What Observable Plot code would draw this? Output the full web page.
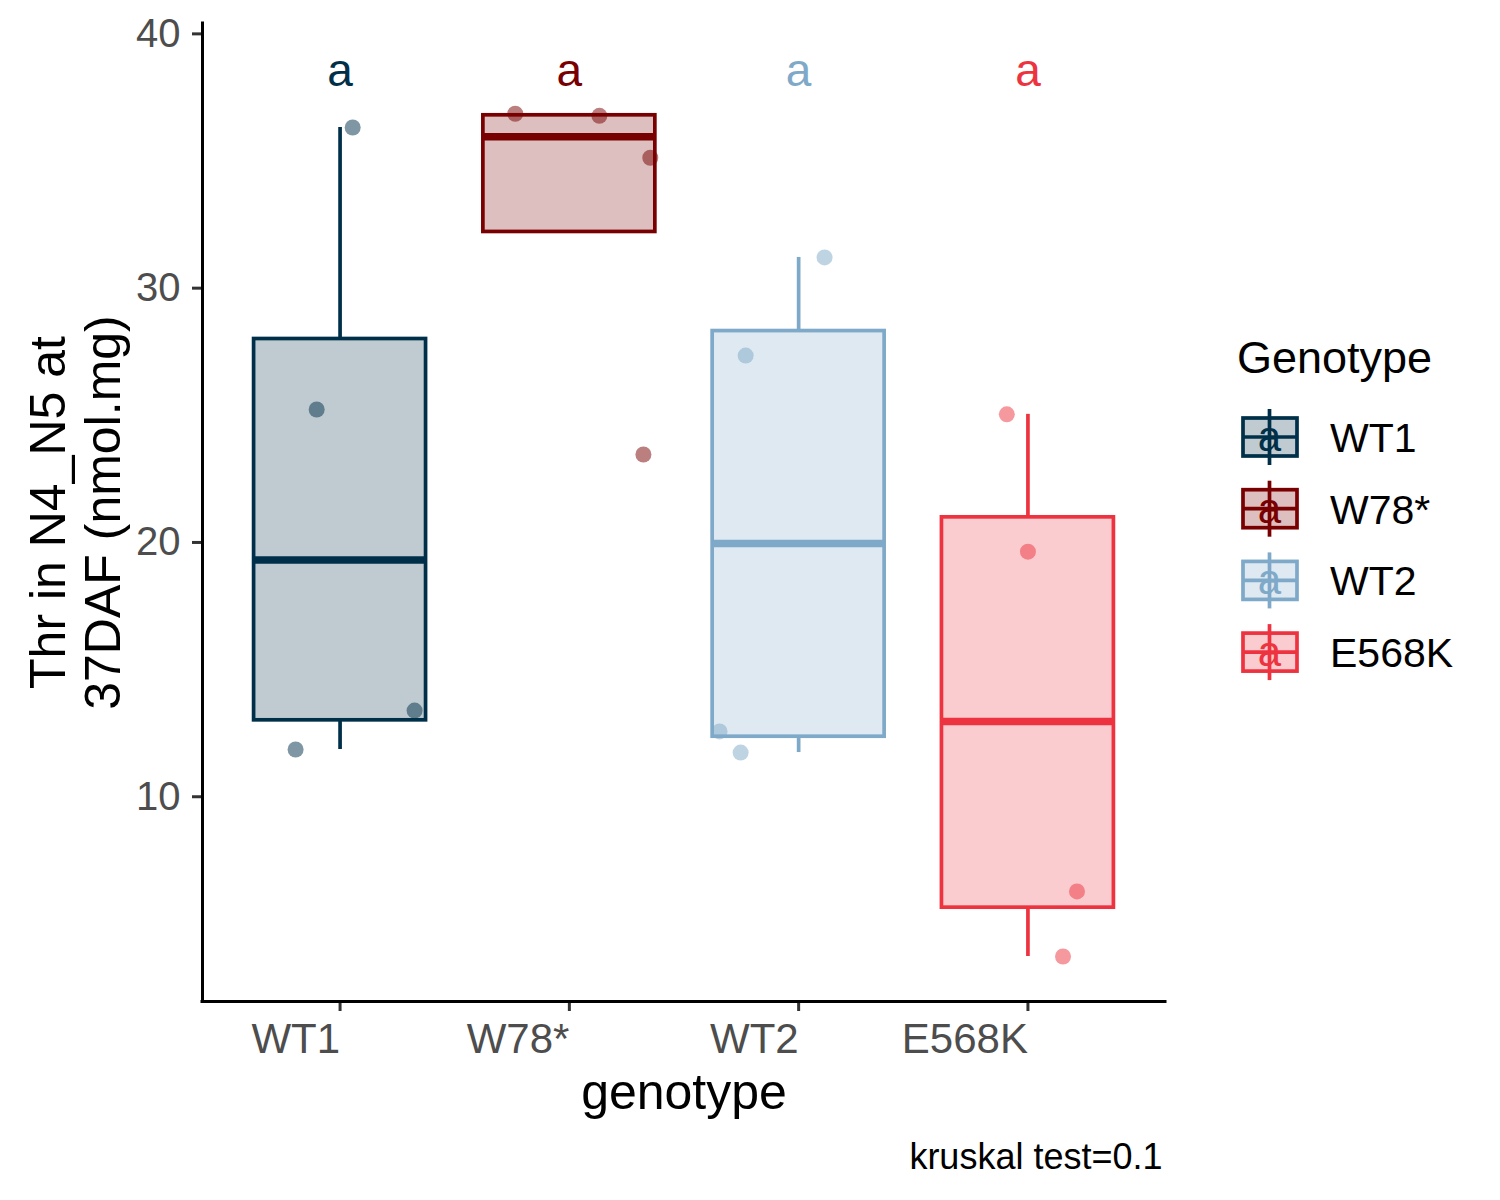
<!DOCTYPE html>
<html>
<head>
<meta charset="utf-8">
<script src="https://cdn.jsdelivr.net/npm/d3@7"></script>
<script src="https://cdn.jsdelivr.net/npm/@observablehq/plot@0.6"></script>
<style>
  html, body { margin: 0; padding: 0; background: #fff; }
  #wrap { position: relative; width: 1500px; height: 1200px; font-family: "Liberation Sans", Arial, sans-serif; }
  #chart { position: absolute; left: 0; top: 0; }
  #legend { position: absolute; left: 1200px; top: 0; }
</style>
</head>
<body>
<div id="wrap"><div id="chart"></div><div id="legend"></div></div>
<script>
// ---- data ----
const genotypes = ["WT1", "W78*", "WT2", "E568K"];
const genotypeColors = ["#003049", "#780000", "#7FA9C8", "#EE3340"];
const thrWT1 = [36.20, 25.11, 13.27, 11.74];
const thrW78 = [36.74, 36.66, 35.01, 23.34];
const thrWT2 = [31.09, 27.23, 12.45, 11.62];
const thrE568K = [24.92, 19.52, 6.16, 3.60];
// horizontal jitter of each point (in category units)
const jitterWT1 = [0.055, -0.102, 0.325, -0.194];
const jitterW78 = [-0.236, 0.131, 0.353, 0.323];
const jitterWT2 = [0.113, -0.231, -0.345, -0.253];
const jitterE568K = [-0.092, 0.0, 0.214, 0.153];
const groupLetters = ["a", "a", "a", "a"];
const yTicks = [10, 20, 30, 40];
const yDomain = [1.83, 40.29];
const xDomain = [0.4, 4.6];
const yTitle = "Thr in N4_N5 at\n37DAF (nmol.mg)";
const xTitle = "genotype";
const legendTitle = "Genotype";
const captionText = "kruskal test=0.1";

// ---- derived tables ----
const valueSets = [thrWT1, thrW78, thrWT2, thrE568K];
const jitterSets = [jitterWT1, jitterW78, jitterWT2, jitterE568K];
const points = [];
valueSets.forEach((vals, g) => vals.forEach((v, k) => points.push({
  genotype: genotypes[g], i: g + 1, value: v, jitter: jitterSets[g][k]
})));
const stats = valueSets.map((vals, g) => {
  const s = vals.slice().sort(d3.ascending);
  const q1 = d3.quantile(s, 0.25), median = d3.quantile(s, 0.5), q3 = d3.quantile(s, 0.75);
  const iqr = q3 - q1;
  const inside = s.filter(v => v >= q1 - 1.5 * iqr && v <= q3 + 1.5 * iqr);
  return {
    genotype: genotypes[g], i: g + 1, q1, median, q3,
    lo: Math.min(q1, d3.min(inside)), hi: Math.max(q3, d3.max(inside))
  };
});
const letterY = d3.max(points, d => d.value) * 1.05;
const letters = genotypes.map((g, k) => ({genotype: g, i: k + 1, letter: groupLetters[k], y: letterY}));
const half = 0.375; // half box width (ggplot default 0.75)

const font = "'Liberation Sans', Arial, sans-serif";

const chart = Plot.plot({
  width: 1200,
  height: 1200,
  marginLeft: 202,
  marginRight: 35,
  marginTop: 23,
  marginBottom: 199,
  style: {fontFamily: font, background: "white"},
  x: {type: "linear", domain: xDomain},
  y: {domain: yDomain},
  color: {domain: genotypes, range: genotypeColors},
  marks: [
    Plot.ruleX(stats, {x: "i", y1: "lo", y2: "q1", stroke: "genotype", strokeWidth: 3.7}),
    Plot.ruleX(stats, {x: "i", y1: "q3", y2: "hi", stroke: "genotype", strokeWidth: 3.7}),
    Plot.rect(stats, {x1: d => d.i - half, x2: d => d.i + half, y1: "q1", y2: "q3",
      fill: "genotype", fillOpacity: 0.25, stroke: "genotype", strokeWidth: 3.7}),
    Plot.ruleY(stats, {y: "median", x1: d => d.i - half, x2: d => d.i + half,
      stroke: "genotype", strokeWidth: 7.4}),
    Plot.dot(points, {x: d => d.i + d.jitter, y: "value", r: 8, fill: "genotype",
      fillOpacity: 0.5, stroke: null}),
    Plot.text(letters, {x: "i", y: "y", text: "letter", fill: "genotype", fontSize: 46, dy: 4}),
    Plot.axisY({ticks: yTicks, tickSize: 10, tickPadding: 12, fontSize: 40, fill: "#4D4D4D",
      stroke: "#333333", strokeWidth: 3, label: null, dy: 3}),
    Plot.axisX({ticks: [1, 2, 3, 4], tickFormat: d => genotypes[d - 1], tickSize: 10,
      tickPadding: 12, fontSize: 42, fill: "#4D4D4D", stroke: "#333333", strokeWidth: 3,
      textAnchor: "end", label: null}),
    Plot.ruleX([xDomain[0]], {stroke: "black", strokeWidth: 3, strokeLinecap: "square"}),
    Plot.ruleY([yDomain[0]], {stroke: "black", strokeWidth: 3, strokeLinecap: "square"}),
    Plot.text([yTitle], {frameAnchor: "left", rotate: -90, textAnchor: "middle", lineAnchor: "top",
      fontSize: 50, lineHeight: 1.1, dx: -177, fill: "black"}),
    Plot.text([xTitle], {frameAnchor: "bottom", lineAnchor: "middle", fontSize: 50, dy: 91, fill: "black"}),
    Plot.text([captionText], {frameAnchor: "bottom-right", textAnchor: "end", lineAnchor: "middle",
      fontSize: 36, dy: 156, dx: -3, fill: "black"})
  ]
});
document.getElementById("chart").appendChild(chart);

// ---- legend (right side) ----
const ns = "http://www.w3.org/2000/svg";
const lg = d3.select("#legend").append("svg")
  .attr("xmlns", ns).attr("width", 300).attr("height", 720)
  .style("font-family", font);
lg.append("text").attr("x", 37).attr("y", 373).attr("font-size", 45).attr("fill", "black").text(legendTitle);
const step = 71.7, y0 = 437;
genotypes.forEach((g, k) => {
  const cy = y0 + k * step, c = genotypeColors[k];
  const gr = lg.append("g");
  gr.append("line").attr("x1", 69.5).attr("x2", 69.5).attr("y1", cy - 28).attr("y2", cy + 28)
    .attr("stroke", c).attr("stroke-width", 3.7);
  gr.append("rect").attr("x", 43).attr("y", cy - 19).attr("width", 54).attr("height", 38)
    .attr("fill", c).attr("fill-opacity", 0.25).attr("stroke", c).attr("stroke-width", 3.7);
  gr.append("line").attr("x1", 43).attr("x2", 97).attr("y1", cy).attr("y2", cy)
    .attr("stroke", c).attr("stroke-width", 3.7);
  gr.append("text").attr("x", 69.5).attr("y", cy + 14).attr("text-anchor", "middle")
    .attr("font-size", 42).attr("fill", c).text(groupLetters[k]);
  gr.append("text").attr("x", 130).attr("y", cy + 15).attr("font-size", 41).attr("fill", "black").text(g);
});
</script>
</body>
</html>
